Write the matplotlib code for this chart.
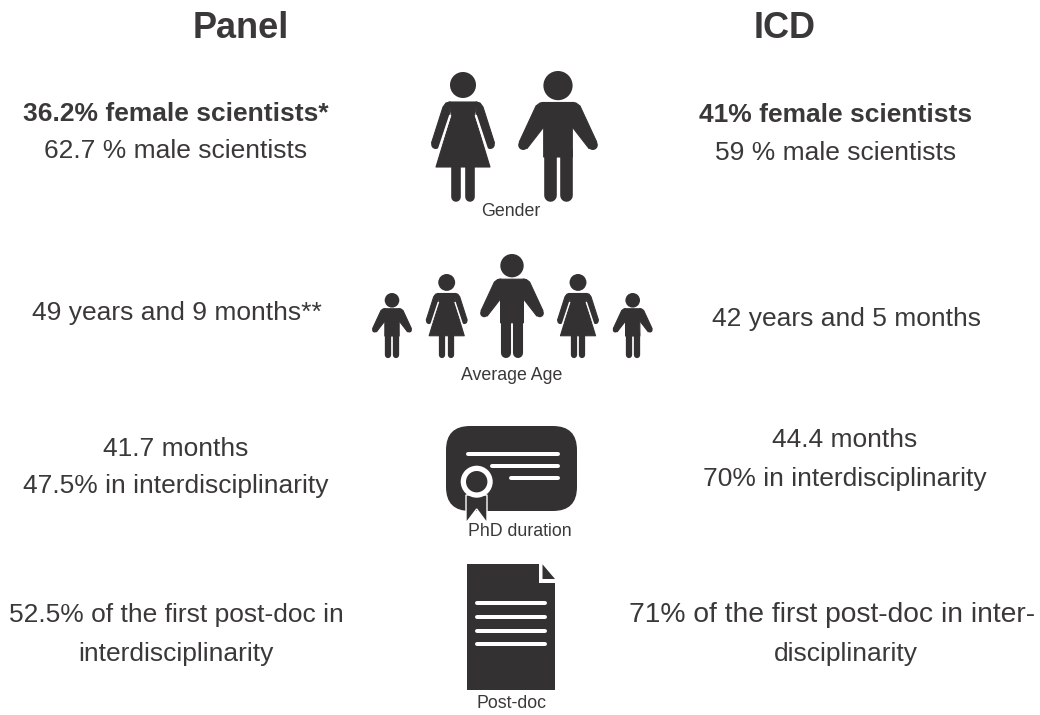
import matplotlib
matplotlib.use("Agg")
import matplotlib.pyplot as plt
from matplotlib.patches import Circle, Polygon, FancyBboxPatch

plt.rcParams['font.family'] = ['Liberation Sans', 'DejaVu Sans']

INK = '#333132'
TEXT = '#3a3839'

headers = [("Panel", 241, 28), ("ICD", 785, 28)]
left_rows = [
    ("36.2% female scientists*", 176, 114, 'bold', 19),
    ("62.7 % male scientists", 176, 151, 'normal', 19),
    ("49 years and 9 months**", 177, 313, 'normal', 19),
    ("41.7 months", 176, 449, 'normal', 19),
    ("47.5% in interdisciplinarity", 176, 486, 'normal', 19),
    ("52.5% of the first post-doc in", 176, 615, 'normal', 19),
    ("interdisciplinarity", 176, 654, 'normal', 19),
]
right_rows = [
    ("41% female scientists", 836, 115, 'bold', 19),
    ("59 % male scientists", 836, 153, 'normal', 19),
    ("42 years and 5 months", 847, 319, 'normal', 19),
    ("44.4 months", 845, 440, 'normal', 19),
    ("70% in interdisciplinarity", 845, 479, 'normal', 19),
    ("71% of the first post-doc in inter-", 832, 615, 'normal', 20.3),
    ("disciplinarity", 846, 654, 'normal', 19),
]
icon_labels = [("Gender", 511, 211), ("Average Age", 512, 376),
               ("PhD duration", 520, 532), ("Post-doc", 512, 704)]

fig = plt.figure(figsize=(10.4, 7.15), dpi=100)
ax = fig.add_axes([0, 0, 1, 1])
ax.set_xlim(0, 1040)
ax.set_ylim(715, 0)
ax.axis('off')
PX = 0.72  # points per pixel at 100 dpi


def limb(x0, y0, x1, y1, w, color=INK, cap='round', z=3):
    ax.plot([x0, x1], [y0, y1], color=color, lw=w * PX, solid_capstyle=cap, zorder=z)


def shape(pts, X, Y):
    ax.add_patch(Polygon([(X(a), Y(b)) for a, b in pts], fc=INK, ec=INK, lw=0.8,
                         joinstyle='round', zorder=3))


def woman(cx, top, s):
    X = lambda v: cx + v * s
    Y = lambda v: top + v * s
    ax.add_patch(Circle((cx, Y(13)), 13 * s, color=INK, lw=0, zorder=3))
    shape([(-14, 30), (14, 30), (11.5, 44), (27, 95), (-27, 95), (-11.5, 44)], X, Y)
    for d in (-1, 1):
        shape([(d * 13, 30), (d * 17, 31), (d * 20, 35), (d * 31.5, 71), (d * 23, 74), (d * 13.5, 44)], X, Y)
        ax.add_patch(Circle((X(d * 27.3), Y(72.5)), 4.5 * s, color=INK, lw=0, zorder=3))
        limb(X(d * 12.7), Y(43), X(d * 24), Y(77), 2.2 * s, color='white', cap='butt', z=3.5)
        limb(X(d * 6.8), Y(95), X(d * 6.8), Y(124.5), 9.6 * s)


def man(cx, top, s):
    X = lambda v: cx + v * s
    Y = lambda v: top + v * s
    ax.add_patch(Circle((cx, Y(14.6)), 14.6 * s, color=INK, lw=0, zorder=3))
    shape([(-16, 31.5), (16, 31.5), (14.3, 56), (14.3, 86), (-14.3, 86), (-14.3, 56)], X, Y)
    for d in (-1, 1):
        shape([(d * 14, 31.5), (d * 18, 32), (d * 22, 35), (d * 38.7, 71), (d * 31, 77.5), (d * 14.3, 56)], X, Y)
        ax.add_patch(Circle((X(d * 34.8), Y(74)), 5 * s, color=INK, lw=0, zorder=3))
        limb(X(d * 8), Y(80), X(d * 8), Y(124), 12.6 * s)


woman(463, 72, 1.0)
man(558, 71, 1.0)
man(392, 293, 0.5)
woman(446.7, 274, 0.65)
man(512, 254, 0.8)
woman(578, 274, 0.65)
man(632.7, 293, 0.5)

# certificate
ax.add_patch(FancyBboxPatch((446 + 24, 426 + 24), 131 - 48, 85 - 48,
                            boxstyle="round,pad=24,rounding_size=24",
                            fc=INK, ec='none', zorder=3))
for x0, x1, y in [(468, 558, 454), (492, 558, 466), (511, 558, 478)]:
    limb(x0, y, x1, y, 4, color='white', z=4)
ax.add_patch(Polygon([(466, 495), (487, 495), (487, 523), (476.7, 509), (466, 523)],
                     fc=INK, ec='white', lw=1, zorder=5))
ax.add_patch(Circle((476.7, 481.7), 16, color='white', lw=0, zorder=6))
ax.add_patch(Circle((476.7, 481.7), 10.7, color=INK, lw=0, zorder=7))

# document
ax.add_patch(Polygon([(467.3, 564.3), (538.5, 564.3), (538.5, 582.5), (555, 582.5), (555, 690), (467.3, 690)],
                     color=INK, lw=0, zorder=3))
ax.add_patch(Polygon([(542.5, 564.3), (555, 579), (542.5, 579)], color=INK, lw=0, zorder=3))
for y in (603.3, 617, 630.7, 644.3):
    limb(477, y, 545, y, 4, color='white', z=4)

for s, x, y in headers:
    ax.text(x, y, s, ha='center', va='center', fontsize=26, fontweight='bold', color=TEXT, zorder=8)
for rows in (left_rows, right_rows):
    for s, x, y, w, fs in rows:
        ax.text(x, y, s, ha='center', va='center', fontsize=fs, fontweight=w, color=TEXT, zorder=8)
for s, x, y in icon_labels:
    ax.text(x, y, s, ha='center', va='center', fontsize=12.8, color=TEXT, zorder=8)

fig.savefig("out.png", dpi=100, facecolor='white')
